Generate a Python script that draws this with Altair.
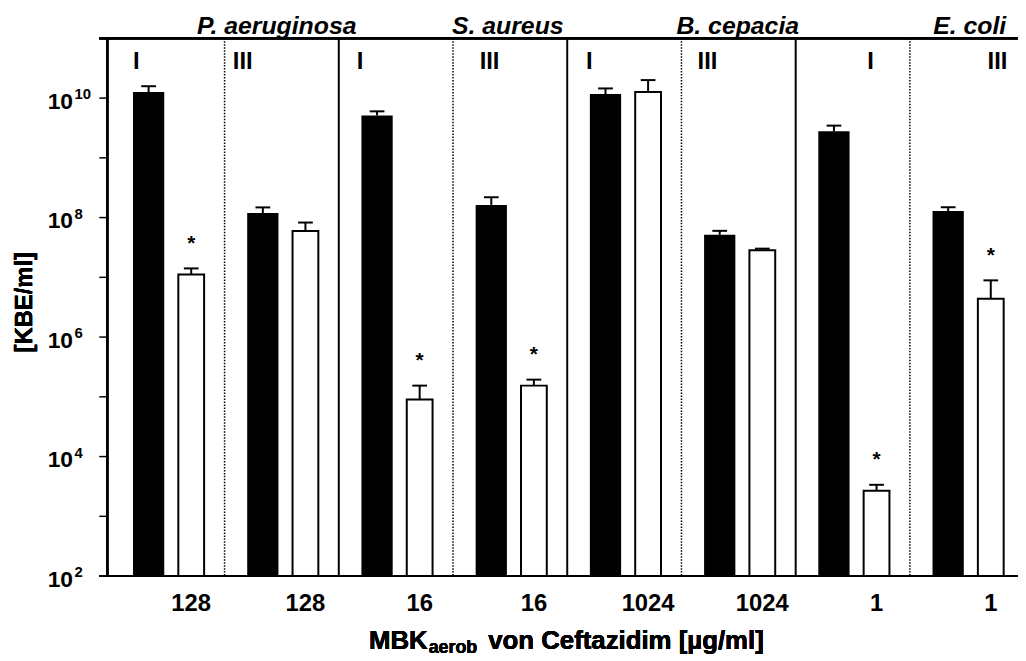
import altair as alt
import pandas as pd

# ---------------- data ----------------
SPECIES = ["P. aeruginosa", "S. aureus", "B. cepacia", "E. coli"]
PHASE = ["I", "III", "I", "III", "I", "III", "I", "III"]
MBK = ["128", "128", "16", "16", "1024", "1024", "1", "1"]
BLACK_MEAN = [1.26e10, 1.19e8, 5.1e9, 1.63e8, 1.17e10, 5.15e7, 2.78e9, 1.29e8]
BLACK_UPPER = [1.58e10, 1.48e8, 6.0e9, 2.19e8, 1.45e10, 6.0e7, 3.46e9, 1.49e8]
WHITE_MEAN = [1.12e7, 5.97e7, 9.0e4, 1.54e5, 1.26e10, 2.83e7, 2.68e3, 4.4e6]
WHITE_UPPER = [1.41e7, 8.26e7, 1.54e5, 1.94e5, 2.0e10, 3.02e7, 3.37e3, 8.9e6]
SIGNIF = [True, False, True, True, False, False, True, True]
Y_TICK_EXP = list(range(2, 12))
Y_LABEL_EXP = [2, 4, 6, 8, 10]
Y_TITLE = "[KBE/ml]"
X_TITLE_MAIN = "MBK"
X_TITLE_SUB = "aerob"
X_TITLE_REST = "von Ceftazidim [µg/ml]"

# ---------------- layout ----------------
W, H = 918, 542
FONT = "Liberation Sans"
BLACK_OFF, WHITE_OFF = 0.335, 0.708
CAP_HALF = 0.0645
PHASE_LABEL_OFF = [0.227, 0.159, 0.186, 0.320, 0.194, 0.228, 0.655, 0.767]
TITLE_SHIFT = [0.155, -0.032, 0.03, -0.157]

XS = alt.Scale(domain=[0.016, 7.903], nice=False, zero=False)
YS = alt.Scale(type="log", domain=[1e2, 1e11], nice=False)

rows = []
for i in range(8):
    for kind, mean, up, off in (("black", BLACK_MEAN[i], BLACK_UPPER[i], BLACK_OFF),
                                ("white", WHITE_MEAN[i], WHITE_UPPER[i], WHITE_OFF)):
        xc = i + off
        rows.append(dict(group=i, kind=kind, xc=xc, mean=mean, upper=up, base=1e2,
                         cl=xc - CAP_HALF, cr=xc + CAP_HALF,
                         sig=(kind == "white" and SIGNIF[i]), mbk=MBK[i]))
bars = pd.DataFrame(rows)
blk = bars[bars.kind == "black"]
wht = bars[bars.kind == "white"]

X = lambda f: alt.X(f, type="quantitative", scale=XS, axis=None)
Y = lambda f: alt.Y(f, type="quantitative", scale=YS, axis=None)

black_bars = alt.Chart(blk).mark_bar(color="black", size=31.5).encode(
    x=X("xc"), y=Y("mean"), y2="base")
white_bars = alt.Chart(wht).mark_bar(fill="white", stroke="black", strokeWidth=2, size=26).encode(
    x=X("xc"), y=Y("mean"), y2="base")
err_line = alt.Chart(bars).mark_rule(color="black", strokeWidth=2).encode(
    x=X("xc"), y=Y("mean"), y2="upper")
err_cap = alt.Chart(bars).mark_rule(color="black", strokeWidth=2).encode(
    x=X("cl"), x2="cr", y=Y("upper"))
stars = alt.Chart(wht[wht.sig]).mark_text(
    text="*", font=FONT, fontWeight="bold", fontSize=21, align="center",
    baseline="alphabetic", dy=-19).encode(x=X("xc"), y=Y("upper"))

div = pd.DataFrame({"k": list(range(1, 8))})
div["solid"] = div.k % 2 == 0
solid = alt.Chart(div[div.solid]).mark_rule(color="black", strokeWidth=2).encode(x=X("k"))
dotted = alt.Chart(div[~div.solid]).mark_rule(color="black", strokeWidth=1.5,
                                              strokeDash=[1.5, 1.5]).encode(x=X("k"))

# axes drawn by hand
ticks_df = pd.DataFrame({"v": [10.0 ** e for e in Y_TICK_EXP]})
ticks = alt.Chart(ticks_df).mark_rule(color="black", strokeWidth=1.5).encode(
    y=Y("v"), x=alt.value(-8), x2=alt.value(0))
left_line = alt.Chart(ticks_df).mark_rule(color="black", strokeWidth=2).encode(
    x=alt.value(0), y=alt.value(0), y2=alt.value(H))
top_line = alt.Chart(ticks_df).mark_rule(color="black", strokeWidth=2).encode(
    y=alt.value(0), x=alt.value(-8), x2=alt.value(W))
bottom_line = alt.Chart(ticks_df).mark_rule(color="black", strokeWidth=2).encode(
    y=alt.value(H), x=alt.value(-8), x2=alt.value(W))

lab_df = pd.DataFrame({"v": [10.0 ** e for e in Y_LABEL_EXP],
                       "e": [str(e) for e in Y_LABEL_EXP]})
ylab_base = alt.Chart(lab_df).mark_text(
    text="10", font=FONT, fontWeight="bold", fontSize=23, align="left",
    baseline="alphabetic", dy=11).encode(y=Y("v"), x=alt.value(-60))
ylab_exp = alt.Chart(lab_df).mark_text(
    font=FONT, fontWeight="bold", fontSize=15, align="left",
    baseline="alphabetic", dy=1).encode(y=Y("v"), x=alt.value(-33))
ylab_exp = ylab_exp.encode(text="e:N")

ytitle = alt.Chart(lab_df).mark_text(
    text=Y_TITLE, font=FONT, fontWeight="bold", fontSize=24, angle=270,
    align="center", baseline="middle").encode(x=alt.value(-83), y=alt.value(266))

xlab = alt.Chart(wht).mark_text(
    font=FONT, fontWeight="bold", fontSize=24, align="center",
    baseline="alphabetic").encode(x=X("xc"), y=alt.value(H + 35), text="mbk:N")

phase_df = pd.DataFrame({"p": PHASE, "x": [i + o for i, o in enumerate(PHASE_LABEL_OFF)]})
phase = alt.Chart(phase_df).mark_text(
    font=FONT, fontWeight="bold", fontSize=24, align="center",
    baseline="alphabetic").encode(x=X("x"), y=alt.value(31), text="p:N")

sp_df = pd.DataFrame({"s": SPECIES, "x": [2 * (j + 1) + t for j, t in enumerate(TITLE_SHIFT)]})
species = alt.Chart(sp_df).mark_text(
    font=FONT, fontWeight="bold", fontStyle="italic", fontSize=25, align="right",
    baseline="alphabetic").encode(x=X("x"), y=alt.value(-4.5), text="s:N")

xt1 = alt.Chart(lab_df).mark_text(
    text=X_TITLE_MAIN, font=FONT, fontWeight="bold", fontSize=26, align="right",
    baseline="alphabetic").encode(x=alt.value(323), y=alt.value(616))
xt2 = alt.Chart(lab_df).mark_text(
    text=X_TITLE_SUB, font=FONT, fontWeight="bold", fontSize=18, align="left",
    baseline="alphabetic").encode(x=alt.value(324), y=alt.value(619.5))
xt3 = alt.Chart(lab_df).mark_text(
    text=X_TITLE_REST, font=FONT, fontWeight="bold", fontSize=26, align="left",
    baseline="alphabetic").encode(x=alt.value(384), y=alt.value(616))

chart = alt.layer(
    solid, dotted, black_bars, white_bars, err_line, err_cap, stars,
    ticks, left_line, top_line, bottom_line,
    ylab_base, ylab_exp, ytitle, xlab, phase, species, xt1, xt2, xt3,
).properties(
    width=W, height=H,
    autosize=alt.AutoSizeParams(type="none"),
    padding={"left": 100, "top": 28, "right": 0, "bottom": 80},
).configure_view(stroke=None).configure(background="white")

chart.save("out.html", embed_options={"renderer": "svg", "actions": False})
